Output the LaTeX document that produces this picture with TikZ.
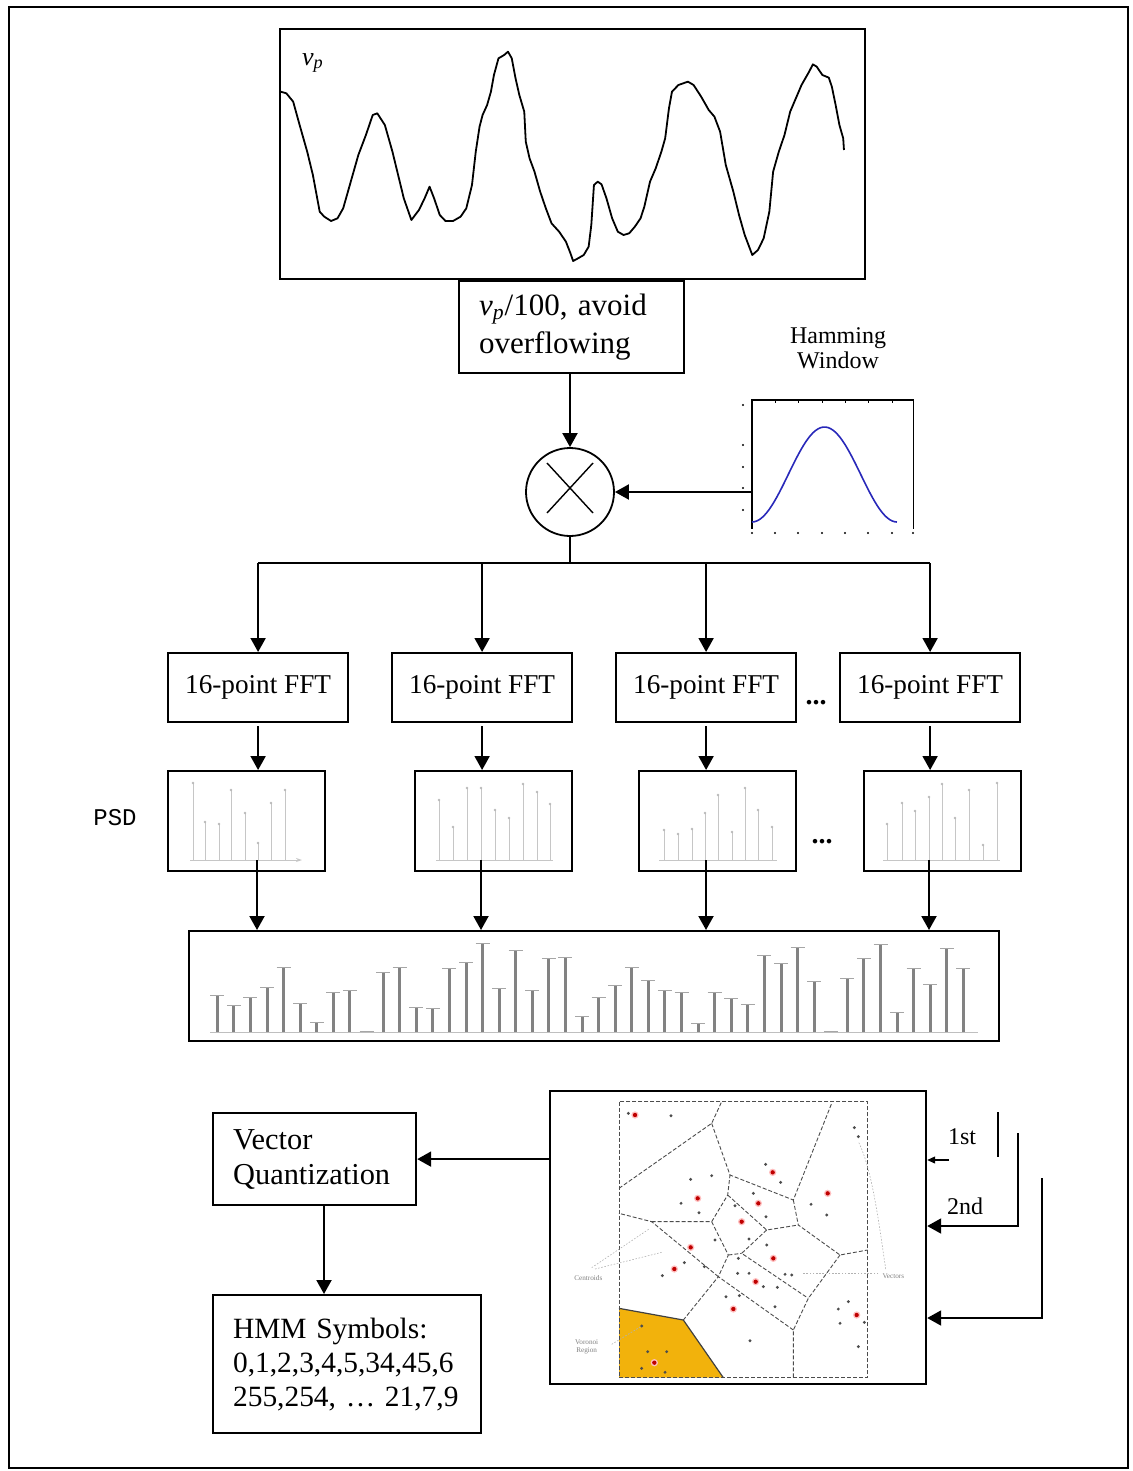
\documentclass[tikz,border=0pt]{standalone}
\usepackage{fontspec}
\setmainfont{Liberation Serif}
\newfontfamily\psdfont{Liberation Mono}
\usetikzlibrary{arrows.meta}
\definecolor{vqorange}{RGB}{242,178,12}
\definecolor{hamblue}{RGB}{40,40,185}
\definecolor{stemgray}{RGB}{130,130,130}

\begin{document}
\begin{tikzpicture}[x=0.5pt,y=-0.5pt,
  box/.style={draw, line width=1.1pt, inner sep=0pt, anchor=north west},
  arr/.style={line width=1pt, -{Triangle[length=7pt,width=7.5pt]}},
  wire/.style={line width=1pt},
  psdstem/.style={gray!45, line width=0.5pt},
  psdtip/.style={gray!55},
  specstem/.style={stemgray, line width=1.5pt},
  speccap/.style={gray!70, line width=0.5pt},
  vdash/.style={gray!60!black, line width=0.45pt, dash pattern=on 2pt off 1pt},
  vlabel/.style={gray, font=\fontsize{3.6}{4}\selectfont, align=center},
  lead/.style={gray!60, line width=0.3pt, dash pattern=on 0.8pt off 0.8pt},
  fftfont/.style={font=\fontsize{13.6}{16}\selectfont}]

\useasboundingbox (0,0) rectangle (1133,1471);
% outer frame
\draw[line width=1pt] (9,7) rectangle (1128,1468);

% ---------- signal v_p ----------
\node[box, minimum width=292.5pt, minimum height=125pt] (wave) at (279,28) {};
\node[font=\fontsize{13}{14}\selectfont] (vp) at (313,63) {\textit{v}\textsubscript{\textit{p}}};
\begin{scope}[shift={(275,25)}, xscale=1/2.64, yscale=1/3]
\draw[line width=0.9pt, line join=round] plot coordinates {
(15,200) (30,205) (48,230) (65,300) (85,380) (100,450) (118,560) (130,575) (148,588) (165,580)
(180,550) (200,470) (220,390) (240,330) (258,270) (270,265) (290,300) (310,380) (325,450) (340,520)
(360,585) (380,555) (395,520) (408,485) (420,520) (435,570) (450,588) (470,588) (490,575) (505,550)
(520,480) (530,380) (540,305) (548,270) (560,240) (570,200) (578,150) (590,100) (605,90) (615,80)
(625,100) (635,160) (645,210) (658,260) (662,350) (672,400) (685,440) (700,500) (715,550) (730,595)
(750,620) (768,650) (780,685) (787,708) (800,700) (815,690) (828,665) (835,600) (842,480) (852,470)
(862,478) (875,520) (890,580) (905,620) (920,630) (935,625) (950,605) (965,580) (975,545) (990,470)
(1005,430) (1020,380) (1030,340) (1040,250) (1048,200) (1065,180) (1090,170) (1105,180) (1125,215) (1145,255)
(1160,275) (1175,320) (1190,420) (1210,500) (1225,570) (1240,630) (1260,690) (1275,675) (1290,640) (1305,560)
(1315,440) (1330,380) (1345,330) (1360,260) (1375,220) (1390,180) (1410,140) (1420,118) (1430,125) (1445,150)
(1462,158) (1470,185) (1480,240) (1490,300) (1500,340) (1502,375)};
\end{scope}

% ---------- scaling ----------
\node[box, minimum width=112.5pt, minimum height=46pt, align=left, text width=92.5pt,
      inner xsep=10pt, font=\fontsize{15.5}{19}\selectfont] (scal) at (458,280)
  {\textit{v}\textsubscript{\textit{p}}/100, avoid\\overflowing};

% ---------- multiplier ----------
\node[draw, circle, line width=0.9pt, minimum size=44pt, inner sep=0pt] (mult) at (570,492) {};
\draw[line width=0.7pt] ([shift={(-23,-29)}]mult.center) -- ([shift={(23,21)}]mult.center);
\draw[line width=0.7pt] ([shift={(23,-29)}]mult.center) -- ([shift={(-23,21)}]mult.center);
\draw[arr] (mult.north |- scal.south) -- (mult.north);

% ---------- Hamming window ----------
\node[inner sep=0pt, minimum width=80.5pt, minimum height=64pt, anchor=north west] (ham) at (752,400) {};
\draw[line width=0.6pt] (ham.south west) -- (ham.north west) -- (ham.north east) -- (ham.south east);
\foreach \tx in {775,798,822,845,868,892} \draw[line width=0.5pt] (\tx,400) -- (\tx,403);
\foreach \ty in {405,445,467,488,510} \fill (743,\ty) circle (0.6pt);
\foreach \tx in {752,775,798,822,845,868,892,913} \fill (\tx,533) circle (0.6pt);
\draw[hamblue, line width=0.8pt, domain=0:1, samples=60, variable=\t]
  plot ({752+145*\t}, {522-95*(0.5-0.5*cos(360*\t))});
\node[font=\fontsize{12}{12.5}\selectfont, align=center] (hamlab) at (838,348) {Hamming\\Window};
\draw[arr] (ham.west |- mult.east) -- (mult.east);

% ---------- distribution to FFT blocks ----------
\foreach \i/\xx in {1/167,2/391,3/615,4/839}
  \node[box, minimum width=90pt, minimum height=34.5pt, fftfont] (fft\i) at (\xx,652) {16-point FFT};
\coordinate (split) at (570,563);
\draw[wire] (mult.south) -- (split);
\draw[wire] (fft1.north |- split) -- (fft4.north |- split);
\foreach \i in {1,...,4} \draw[arr] (fft\i.north |- split) -- (fft\i.north);
\node[font=\bfseries\fontsize{14}{14}\selectfont] (dots1) at (816,703) {...};

% ---------- PSD blocks ----------
\node[font=\psdfont\fontsize{12}{12}\selectfont] (psdlab) at (115,818) {PSD};
\foreach \i/\xx in {1/167,2/414,3/638,4/863}
  \node[box, minimum width=78.5pt, minimum height=50pt] (psd\i) at (\xx,770) {};
\foreach \i in {1,...,4} \draw[arr] ([yshift=-1.5pt]fft\i.south) -- (fft\i.south |- psd\i.north);
\node[font=\bfseries\fontsize{14}{14}\selectfont] (dots2) at (822,842) {...};

% PSD stems
\draw[psdstem, -{Stealth[length=3pt,width=2pt]}] (190,860) -- (302,860);
\foreach \sx/\sy in {193/783,205/822,219/824,231/790,245/813,258/843,271/803,285/790}
  {\draw[psdstem] (\sx,860) -- (\sx,\sy); \fill[psdtip] (\sx,\sy) circle (0.7pt);}
\draw[psdstem] (436,860) -- (553,860);
\foreach \sx/\sy in {439/800,453/827,467/788,481/788,495/810,509/818,523/784,537/792,550/804}
  {\draw[psdstem] (\sx,860) -- (\sx,\sy); \fill[psdtip] (\sx,\sy) circle (0.7pt);}
\draw[psdstem] (659,860) -- (777,860);
\foreach \sx/\sy in {664/830,678/834,692/829,705/813,718/795,732/832,745/788,758/810,772/827}
  {\draw[psdstem] (\sx,860) -- (\sx,\sy); \fill[psdtip] (\sx,\sy) circle (0.7pt);}
\draw[psdstem] (883,860) -- (1000,860);
\foreach \sx/\sy in {887/824,902/803,915/811,929/797,942/784,955/818,969/790,983/845,997/783}
  {\draw[psdstem] (\sx,860) -- (\sx,\sy); \fill[psdtip] (\sx,\sy) circle (0.7pt);}

% ---------- concatenated spectrum ----------
\node[box, minimum width=405pt, minimum height=55pt] (spec) at (188,930) {};
\foreach \i/\bx in {1/257,2/481,3/706,4/929} {
  \coordinate (b\i) at (\bx,860);
  \draw[arr] (b\i) -- (b\i |- spec.north);
}
\draw[gray!50, line width=0.5pt] (210,1032) -- (978,1032);
\foreach \t [count=\k from 0] in {995,1005,997,987,967,1003,1022,992,990,1031,972,967,1007,1008,968,962,943,988,950,990,958,957,1016,
  997,985,967,980,990,992,1023,992,998,1004,955,963,947,981,1031,978,958,944,1012,968,984,948,968} {
  \pgfmathsetmacro\bx{217.3+16.58*\k}
  \draw[specstem] (\bx,1032) -- (\bx,\t);
  \draw[speccap] (\bx-7,\t) -- (\bx+7,\t);
}

% ---------- Voronoi codebook ----------
\node[box, minimum width=188pt, minimum height=146.5pt] (vor) at (549,1090) {};
\begin{scope}[shift={(545,1085)}, scale=1/3]
  \fill[vqorange] (222,670) -- (415,705) -- (535,878) -- (222,878) -- cycle;
  \draw[black!75, line width=0.6pt] (222,670) -- (415,705) -- (535,878);
  \draw[vdash] (222,50) rectangle (968,878);
  \draw[vdash] (222,310) -- (500,115) -- (530,50);
  \draw[vdash] (500,115) -- (555,270) -- (745,345) -- (860,55);
  \draw[vdash] (745,345) -- (760,420) -- (885,510) -- (968,495);
  \draw[vdash] (885,510) -- (790,640) -- (745,735) -- (745,878);
  \draw[vdash] (745,735) -- (520,575) -- (415,705);
  \draw[vdash] (520,575) -- (320,410) -- (222,385);
  \draw[vdash] (320,410) -- (500,410) -- (548,330) -- (555,270);
  \draw[vdash] (548,330) -- (665,435) -- (760,420);
  \draw[vdash] (665,435) -- (590,505) -- (790,640);
  \draw[vdash] (500,410) -- (550,510) -- (520,575);
  \draw[vdash] (550,510) -- (590,505);
  % leader lines of the labels
  \draw[lead] (140,548) -- (312,432);
  \draw[lead] (150,552) -- (350,502);
  \draw[lead] (1022,552) .. controls (1000,400) and (980,250) .. (940,170);
  \draw[lead] (1000,565) -- (775,565);
  \draw[lead] (200,778) -- (290,723);
  % training vectors
  \foreach \px/\py in {250/85,378/92,437/283,500/272,408/355,462/383,662/238,707/292,625/325,663/395,
      570/362,510/465,612/462,665/480,478/545,418/533,352/572,580/520,612/565,578/565,720/568,740/570,
      655/605,697/607,543/635,583/632,690/665,880/672,910/650,885/715,958/712,615/767,940/785,845/390,
      798/358,290/723,308/800,365/800,290/850,360/862,928/128,940/155}
    \fill[black!70] (\px,\py) circle (4.8);
  % centroids
  \foreach \px/\py in {270/90,458/340,640/355,683/262,848/325,590/410,437/487,388/552,685/520,632/590,
      565/672,935/690,328/833}
    {\fill[red!25] (\px,\py) circle (11); \fill[red!75!black] (\px,\py) circle (6.5);}
  \node[vlabel] (lcen) at (130,578) {Centroids};
  \node[vlabel] (lvec) at (1045,575) {Vectors};
  \node[vlabel] (lreg) at (125,785) {Voronoi\\Region};
\end{scope}

% frame order arrows
\coordinate (o1a) at (998,1112);
\coordinate (o1b) at (998,1157);
\coordinate (o1c) at (949,1160);
\coordinate (o2a) at (1018,1133);
\coordinate (o2b) at (1018,1226);
\coordinate (o3a) at (1042,1178);
\coordinate (o3b) at (1042,1318);
\draw[wire] (o1a) -- (o1b);
\draw[line width=0.6pt, -{Triangle[length=4pt,width=3.5pt]}] (o1c) -- (vor.east |- o1c);
\draw[arr] (o2a) -- (o2b) -- (vor.east |- o2b);
\draw[arr] (o3a) -- (o3b) -- (vor.east |- o3b);
\node[font=\fontsize{12}{12}\selectfont] (l1st) at (962,1137) {1st};
\node[font=\fontsize{12}{12}\selectfont] (l2nd) at (965,1206) {2nd};

% ---------- vector quantization and symbols ----------
\node[box, minimum width=101.5pt, minimum height=46pt, align=left, text width=81.5pt,
      inner xsep=10pt, font=\fontsize{15.2}{17.5}\selectfont] (vq) at (212,1112)
  {Vector\\Quantization};
\draw[arr] (vor.west |- vq.east) -- (vq.east);
\node[box, minimum width=134pt, minimum height=69pt, align=left, text width=114pt,
      inner xsep=10pt, font=\fontsize{14.7}{17}\selectfont] (hmm) at (212,1294)
  {HMM Symbols:\\0,1,2,3,4,5,34,45,6\\255,254, \dots\ 21,7,9};
\coordinate (vqx) at (324,1250);
\draw[arr] (vqx |- vq.south) -- (vqx |- hmm.north);

\end{tikzpicture}
\end{document}
